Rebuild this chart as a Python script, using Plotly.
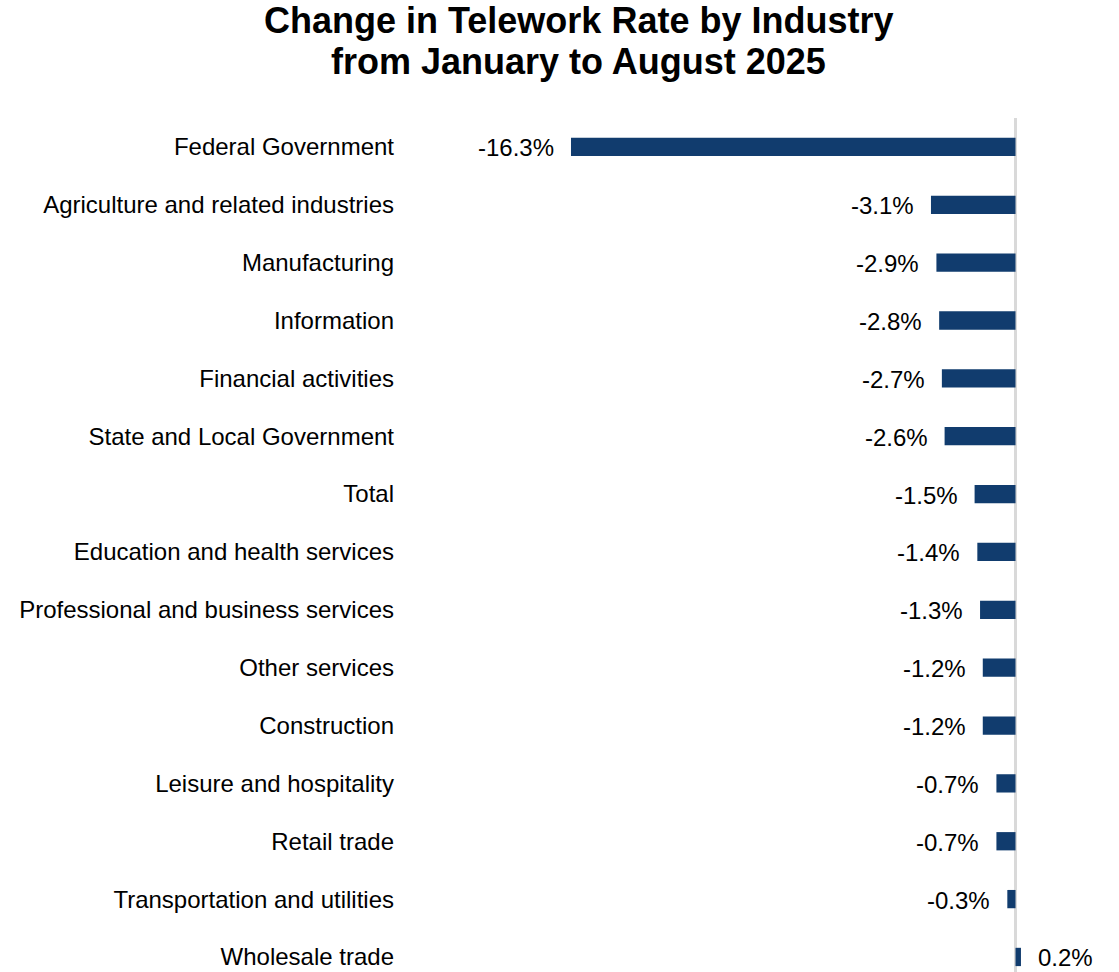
import plotly.graph_objects as go

# Change in telework rate, Jan -> Aug 2025 (percentage points), top to bottom
industries = [
    "Federal Government",
    "Agriculture and related industries",
    "Manufacturing",
    "Information",
    "Financial activities",
    "State and Local Government",
    "Total",
    "Education and health services",
    "Professional and business services",
    "Other services",
    "Construction",
    "Leisure and hospitality",
    "Retail trade",
    "Transportation and utilities",
    "Wholesale trade",
]
change = [-16.3, -3.1, -2.9, -2.8, -2.7, -2.6, -1.5, -1.4, -1.3, -1.2, -1.2, -0.7, -0.7, -0.3, 0.2]

title_lines = ["Change in Telework Rate by Industry", "from January to August 2025"]

BAR_COLOR = "#113C6E"
FONT = "Liberation Sans, Arial, sans-serif"

W, H = 1119, 972
M_L, M_R, M_T, M_B = 400, 9, 118, 0
plot_w = W - M_L - M_R
plot_h = H - M_T - M_B

fig = go.Figure(
    go.Bar(
        x=change,
        y=industries,
        orientation="h",
        width=0.316,
        marker=dict(color=BAR_COLOR, line=dict(width=0)),
        hovertemplate="%{y}: %{x:.1f}%<extra></extra>",
    )
)

# value labels beside each bar end
annotations = []
for name, v in zip(industries, change):
    annotations.append(
        dict(
            x=v,
            y=name,
            xref="x",
            yref="y",
            text=f"{v:.1f}%",
            showarrow=False,
            xanchor="right" if v < 0 else "left",
            xshift=-15 if v < 0 else 15,
            yshift=-1,
            font=dict(family=FONT, size=24, color="#000000"),
        )
    )

# two-line title, placed in paper coordinates above the plot
title_x = (578 - M_L) / plot_w
for line, ypix in zip(title_lines, [21, 62]):
    annotations.append(
        dict(
            x=title_x,
            y=(H - M_B - ypix) / plot_h,
            xref="paper",
            yref="paper",
            text=f"<b>{line}</b>",
            showarrow=False,
            xanchor="center",
            yanchor="middle",
            font=dict(family=FONT, size=36, color="#000000"),
        )
    )

fig.update_layout(
    width=W,
    height=H,
    margin=dict(l=M_L, r=M_R, t=M_T, b=M_B, pad=0),
    paper_bgcolor="white",
    plot_bgcolor="white",
    showlegend=False,
    annotations=annotations,
    xaxis=dict(
        range=[-22.57, 3.465],
        showgrid=False,
        showticklabels=False,
        ticks="",
        showline=False,
        zeroline=True,
        zerolinecolor="#D9D9D9",
        zerolinewidth=3,
        fixedrange=True,
    ),
    yaxis=dict(
        type="category",
        categoryorder="array",
        categoryarray=industries,
        range=[14.26, -0.5],
        showgrid=False,
        ticks="",
        showline=False,
        zeroline=False,
        ticklabelstandoff=5,
        tickfont=dict(family=FONT, size=24, color="#000000"),
        fixedrange=True,
    ),
)

fig.write_html("out.html")
